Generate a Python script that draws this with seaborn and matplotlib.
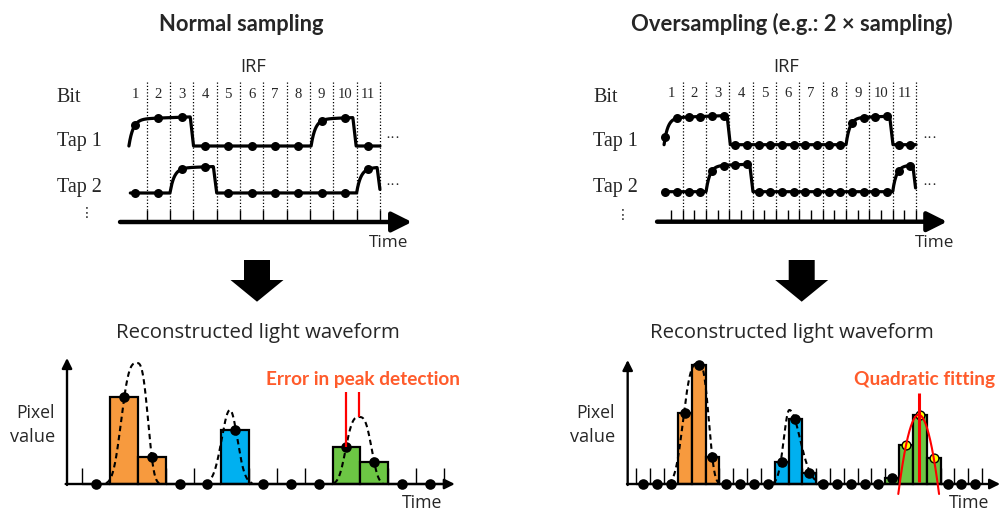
import numpy as np
import pandas as pd
import matplotlib
matplotlib.use("Agg")
import matplotlib.pyplot as plt
import matplotlib.transforms as mtransforms
from matplotlib.patches import Polygon
import seaborn as sns

# ---------------- data ----------------
bit_labels = ["1", "2", "3", "4", "5", "6", "7", "8", "9", "10", "11"]
bit_centres = [0.5, 1.5, 2.5, 3.5, 4.5, 5.5, 6.5, 7.5, 8.5, 9.5, 10.5]
bit_edges = [1, 2, 3, 4, 5, 6, 7, 8, 9, 10, 11]
half_bit_ticks = [0.5, 1.0, 1.5, 2.0, 2.5, 3.0, 3.5, 4.0, 4.5, 5.0, 5.5,
                  6.0, 6.5, 7.0, 7.5, 8.0, 8.5, 9.0, 9.5, 10.0, 10.5, 11.0]

# normal sampling: tap gates (rise start, fall start) in bit units, samples at bit centres
normal_tap1_gates = [(0.24, 2.87), (8.05, 9.84)]
normal_tap2_gates = [(2.0, 3.86), (10.0, 10.88)]
normal_tap1_span = (0.24, 11.0)
normal_tap2_span = (0.3, 11.0)
normal_tap1_samples = [0.74, 1.0, 1.03, 0, 0, 0, 0, 0, 0.89, 1.0, 0]
normal_tap2_samples = [0, 0, 0.92, 1.0, 0, 0, 0, 0, 0, 0, 0.92]

# oversampling (2x): samples every half bit
over_sample_t = [0.25, 0.75, 1.25, 1.75, 2.25, 2.75, 3.25, 3.75, 4.25, 4.75, 5.25,
                 5.75, 6.25, 6.75, 7.25, 7.75, 8.25, 8.75, 9.25, 9.75, 10.25, 10.75]
over_tap1_gates = [(0.2, 2.9), (8.0, 9.87)]
over_tap2_gates = [(2.0, 3.87), (10.0, 10.86)]
over_tap1_span = (0.2, 11.0)
over_tap2_span = (0.2, 10.98)
over_tap1_samples = [0.26, 0.94, 0.99, 1.0, 1.02, 1.03, 0, 0, 0, 0, 0, 0, 0, 0, 0, 0,
                     0.77, 0.97, 1.0, 1.01, 0, 0]
over_tap2_samples = [0, 0, 0, 0, 0.77, 0.97, 1.0, 1.01, 0, 0, 0, 0, 0, 0, 0, 0, 0, 0,
                     0, 0, 0.77, 0.97]

# reconstructed waveform, normal sampling
normal_bins = [0, 1, 2, 3, 4, 5, 6, 7, 8, 9, 10, 11, 12]
normal_values = [0, 87, 27, 0, 0, 54, 0, 0, 0, 37, 22, 0, 0]
normal_groups = ["none", "orange", "orange", "none", "none", "blue", "none",
                 "none", "none", "green", "green", "none", "none"]
normal_pulse_centre = [1.46, 4.81, 9.46]
normal_pulse_amp = [121, 74, 67]
normal_pulse_sig_left = [0.65, 0.42, 0.56]
normal_pulse_sig_right = [0.47, 0.38, 0.52]
normal_pulse_power = [3, 2, 3]

# reconstructed waveform, oversampling
over_bins = list(range(25))
over_values = [0, 0, 0, 71, 119, 27, 0, 0, 0, 0, 22, 65, 11, 0, 0, 0, 0, 0,
               6, 39, 69, 26, 0, 0, 0]
over_groups = ["none", "none", "none", "orange", "orange", "orange", "none", "none",
               "none", "none", "blue", "blue", "blue", "none", "none", "none", "none",
               "none", "green", "green", "green", "green", "none", "none", "none"]
over_pulse_centre = [3.98, 10.56]
over_pulse_amp = [121, 74]
over_pulse_sig_left = [1.28, 0.57]
over_pulse_sig_right = [0.88, 1.10]
over_pulse_power = [3, 2]
over_fit_bins = [19, 20, 21]

BAR_COLORS = {"none": "white", "orange": "#F79A3E", "blue": "#00B0F0", "green": "#6CC644"}
RED_TEXT = "#FF5B2B"
SERIF = ["Liberation Serif", "DejaVu Serif"]
SANS = ["Open Sans", "DejaVu Sans"]
SANS_BOLD = ["Lato", "DejaVu Sans"]

# ---------------- figure ----------------
sns.set_style("white")
plt.rcParams["font.family"] = SANS

W, H = 1001, 512
fig = plt.figure(figsize=(W / 100, H / 100), dpi=100)
PX = mtransforms.Affine2D().scale(1 / W, -1 / H).translate(0, 1) + fig.transFigure
RENDERER = fig.canvas.get_renderer()


def ftext(x, y, s, **kw):
    kw.setdefault("va", "baseline")
    return fig.text(x / W, 1 - y / H, s, **kw)


def fit_text(x, y, s, width, **kw):
    """Place text and scale its size so that it spans `width` pixels."""
    kw.setdefault("fontsize", 12)
    t = ftext(x, y, s, **kw)
    w = t.get_window_extent(renderer=RENDERER).width
    t.set_fontsize(t.get_fontsize() * width / w)
    return t


def panel(L, T, R, B, x0, sx, y0):
    ax = fig.add_axes([L / W, 1 - B / H, (R - L) / W, (B - T) / H])
    lims = ((L - x0) / sx, (R - x0) / sx), (y0 - B, y0 - T)
    return ax, lims


def finish(ax, lims):
    ax.set_xlim(*lims[0])
    ax.set_ylim(*lims[1])
    ax.set_axis_off()
    ax.patch.set_alpha(0)


def arrow(ax, x0, y0, x1, y1, lw, ms, hl, hw):
    ax.annotate("", xy=(x1, y1), xytext=(x0, y0),
                arrowprops=dict(arrowstyle=f"-|>,head_length={hl},head_width={hw}",
                                lw=lw, color="black", shrinkA=0, shrinkB=0,
                                mutation_scale=ms),
                annotation_clip=False)


def gate_wave(t, gates, tau, fall=0.14):
    t = np.asarray(t, dtype=float)
    out = np.zeros_like(t)

    def rise(d):
        d = np.maximum(d, 0)
        return (1 - np.exp(-d / tau)) * (0.96 + 0.03 * d)

    for s, e in gates:
        r_e = rise(e - s)
        on = (t >= s) & (t <= e)
        after = t > e
        out = out + np.where(on, rise(t - s), 0.0)
        out = out + np.where(after, np.clip(r_e * (1 - (t - e) / fall), 0, None), 0.0)
    return out


def draw_top(ax, ticks, sample_t, taps, tau, axis_x):
    ax.vlines(bit_edges, 12, 140, colors="black", linestyles=(0, (1, 1.6)), lw=0.9, zorder=1)
    ax.vlines(ticks, 0, 12, colors="black", lw=1.0, zorder=1)
    arrow(ax, axis_x[0], 0, axis_x[1], 0, lw=3.2, ms=20, hl=0.6, hw=0.3)
    for gates, span, samples, base, amp in taps:
        t = np.linspace(span[0], span[1], 1500)
        y = base + amp * gate_wave(t, gates, tau)
        sns.lineplot(x=t, y=y, ax=ax, color="black", lw=2.3, estimator=None,
                     sort=False, zorder=3)
        sns.scatterplot(x=sample_t, y=base + amp * np.asarray(samples), ax=ax,
                        color="black", s=42, linewidth=0, zorder=4, legend=False)
    for c, lab in zip(bit_centres, bit_labels):
        ax.text(c, 124.3, lab, ha="center", va="baseline", fontsize=10.6, family=SERIF)


def draw_bottom(ax, bins, values, groups, centres, amps, sl, sr, pw,
                yaxis_x, xaxis_end, ytop, fit_bins=None):
    ax.vlines(np.arange(len(bins) + 1) - 0.5, 0, 16, colors="black", lw=1.0, zorder=1)
    df = pd.DataFrame(dict(bin=bins, value=values, group=groups))
    sns.barplot(data=df, x="bin", y="value", hue="group", palette=BAR_COLORS,
                dodge=False, width=1.0, saturation=1, edgecolor="black",
                linewidth=1.6, errorbar=None, legend=False, ax=ax, zorder=2)
    for c, a, s1, s2, p in zip(centres, amps, sl, sr, pw):
        xs = np.linspace(c - 2.4 * s1, c + 2.4 * s2, 400)
        d = xs - c
        sig = np.where(d < 0, s1, s2)
        f = a * np.exp(-(np.abs(d) / sig) ** p)
        keep = f > 0.8
        sns.lineplot(x=xs[keep], y=f[keep], ax=ax, color="black", lw=1.5,
                     linestyle=(0, (2.6, 1.8)), estimator=None, sort=False, zorder=4)
    fit_bins = fit_bins or []
    black = df[~df["bin"].isin(fit_bins)]
    sns.scatterplot(data=black, x="bin", y="value", ax=ax, color="black", s=58,
                    linewidth=0, zorder=5, legend=False)
    if fit_bins:
        yel = df[df["bin"].isin(fit_bins)]
        sns.scatterplot(data=yel, x="bin", y="value", ax=ax, color="#FFFF00", s=40,
                        edgecolor="black", linewidth=1.0, zorder=5, legend=False)
    arrow(ax, yaxis_x, -1, yaxis_x, ytop, lw=1.7, ms=10, hl=0.6, hw=0.3)
    arrow(ax, yaxis_x - 0.05, 0, xaxis_end, 0, lw=1.7, ms=10, hl=0.6, hw=0.3)


# ---------------- titles ----------------
fit_text(241.5, 31, "Normal sampling", 163, ha="center", fontweight="bold",
         family=SANS_BOLD)
fit_text(791.7, 31, "Oversampling (e.g.: 2 \u00d7 sampling)", 320, ha="center",
         fontweight="bold", family=SANS_BOLD)

# ---------------- top-left (normal sampling IRF) ----------------
ax1, lim1 = panel(40, 40, 440, 262, 123.3, 23.33, 222)
draw_top(ax1, bit_edges, bit_centres,
         [(normal_tap1_gates, normal_tap1_span, normal_tap1_samples, 76, 28),
          (normal_tap2_gates, normal_tap2_span, normal_tap2_samples, 29, 26)],
         tau=0.18, axis_x=(-0.14, 12.37))
finish(ax1, lim1)

# ---------------- top-right (oversampling IRF) ----------------
ax2, lim2 = panel(575, 40, 1001, 262, 659.4, 23.33, 221.7)
draw_top(ax2, half_bit_ticks, over_sample_t,
         [(over_tap1_gates, over_tap1_span, over_tap1_samples, 77, 28),
          (over_tap2_gates, over_tap2_span, over_tap2_samples, 30, 27)],
         tau=0.16, axis_x=(-0.1, 12.33))
finish(ax2, lim2)

for x0, xt in [(56.7, 389), (593.3, 935)]:
    ftext(x0, 102.5, "Bit", ha="left", fontsize=14.5, family=SERIF)
    ftext(x0, 146, "Tap 1", ha="left", fontsize=14.5, family=SERIF)
    ftext(x0, 191.7, "Tap 2", ha="left", fontsize=14.5, family=SERIF)
    fit_text(xt, 246.7, "Time", 39, ha="center")
fit_text(253, 71.7, "IRF", 26, ha="center")
fit_text(785.8, 71.7, "IRF", 26, ha="center")
for xd, yd in [(87, 213), (623, 215)]:
    ftext(xd, yd, "\u22ee", ha="center", va="center", fontsize=10,
          family=["DejaVu Sans"])
for xd in (392.5, 930):
    ftext(xd, 138.5, "\u00b7\u00b7\u00b7", ha="center", va="center", fontsize=11, family=SERIF)
    ftext(xd, 185.5, "\u00b7\u00b7\u00b7", ha="center", va="center", fontsize=11, family=SERIF)

# ---------------- down arrows + subtitles ----------------
for cx, tx in ((257, 258.3), (801.7, 791.7)):
    pts = [(cx - 13, 260), (cx + 13, 260), (cx + 13, 280), (cx + 26.5, 280),
           (cx, 301.7), (cx - 26.5, 280), (cx - 13, 280)]
    fig.patches.append(Polygon(pts, closed=True, facecolor="black", edgecolor="none",
                               transform=PX, figure=fig))
    fit_text(tx, 338.3, "Reconstructed light waveform", 283, ha="center")

# ---------------- bottom-left (normal sampling reconstruction) ----------------
ax3, lim3 = panel(0, 345, 490, 512, 96.2, 27.8, 484)
draw_bottom(ax3, normal_bins, normal_values, normal_groups, normal_pulse_centre,
            normal_pulse_amp, normal_pulse_sig_left, normal_pulse_sig_right,
            normal_pulse_power, yaxis_x=-1.05, xaxis_end=12.9, ytop=126)
# error in peak detection: sampled maximum vs true peak
green_idx = [i for i, g in enumerate(normal_groups) if g == "green"]
peak_bin = max(green_idx, key=lambda i: normal_values[i])
ax3.vlines([normal_bins[peak_bin]], normal_values[peak_bin], 92, colors="#FF0000",
           lw=1.6, zorder=6)
ax3.vlines([normal_pulse_centre[2]], normal_pulse_amp[2], 92, colors="#FF0000",
           lw=1.6, zorder=6)
finish(ax3, lim3)

# ---------------- bottom-right (oversampling reconstruction) ----------------
ax4, lim4 = panel(560, 345, 1001, 512, 643.3, 13.83, 484)
draw_bottom(ax4, over_bins, over_values, over_groups, over_pulse_centre,
            over_pulse_amp, over_pulse_sig_left, over_pulse_sig_right,
            over_pulse_power, yaxis_x=-1.13, xaxis_end=25.8, ytop=124,
            fit_bins=over_fit_bins)
fx = np.array(over_fit_bins, dtype=float)
fy = np.array([over_values[b] for b in over_fit_bins], dtype=float)
a, b, c = np.polyfit(fx, fy, 2)
xv = -b / (2 * a)
roots = np.sort(np.roots([a, b, c + 10]).real)
xs = np.linspace(roots[0], roots[1], 300)
sns.lineplot(x=xs, y=np.polyval([a, b, c], xs), ax=ax4, color="#FF0000", lw=1.5,
             estimator=None, sort=False, zorder=6)
ax4.vlines([xv], 2, 91, colors="#FF0000", lw=2.2, zorder=6)
finish(ax4, lim4)

for xr in (55, 615):
    fit_text(xr, 418.3, "Pixel", 38.3, ha="right")
    fit_text(xr, 442.3, "value", 45, ha="right")
fit_text(362.5, 385.5, "Error in peak detection", 193, ha="center",
         fontweight="bold", color=RED_TEXT, family=SANS_BOLD)
fit_text(925, 385.5, "Quadratic fitting", 140, ha="center", fontweight="bold",
         color=RED_TEXT, family=SANS_BOLD)
fit_text(421.7, 508, "Time", 40, ha="center")
fit_text(969, 508, "Time", 40, ha="center")

fig.savefig("out.png", dpi=100)
